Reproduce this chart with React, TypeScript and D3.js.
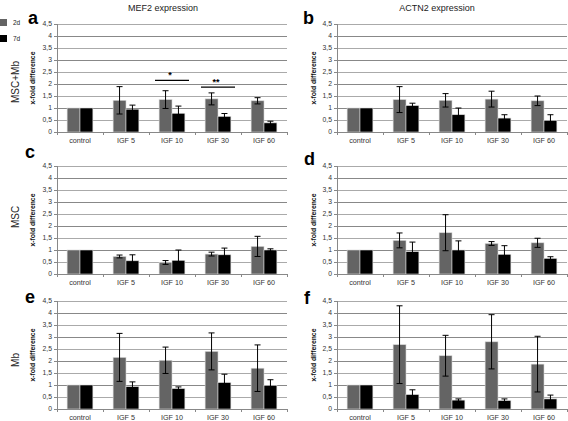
import React from 'react';
import * as d3 from 'd3';

// categories and tick labels shared by all six panels
const categories = ['control', 'IGF 5', 'IGF 10', 'IGF 30', 'IGF 60'];
const yTicks = [0, 0.5, 1, 1.5, 2, 2.5, 3, 3.5, 4, 4.5];
const seriesNames = ['2d', '7d'];
const seriesColors = ['#646464', '#000000'];
const rowLabels = ['MSC+Mb', 'MSC', 'Mb'];
const columnTitles = ['MEF2 expression', 'ACTN2 expression'];
const panelLetters = ['a', 'b', 'c', 'd', 'e', 'f'];

// MEF2, MSC+Mb (a)
const mef2MscMb2d = [1, 1.32, 1.35, 1.38, 1.3];
const mef2MscMb2dErr = [0.01, 0.57, 0.37, 0.25, 0.13];
const mef2MscMb7d = [1, 0.95, 0.78, 0.65, 0.38];
const mef2MscMb7dErr = [0.01, 0.17, 0.3, 0.12, 0.07];
// ACTN2, MSC+Mb (b)
const actn2MscMb2d = [1, 1.35, 1.32, 1.37, 1.3];
const actn2MscMb2dErr = [0.01, 0.54, 0.28, 0.33, 0.2];
const actn2MscMb7d = [1, 1.1, 0.72, 0.58, 0.48];
const actn2MscMb7dErr = [0.01, 0.1, 0.28, 0.14, 0.24];
// MEF2, MSC (c)
const mef2Msc2d = [1, 0.73, 0.48, 0.83, 1.15];
const mef2Msc2dErr = [0.01, 0.06, 0.08, 0.08, 0.42];
const mef2Msc7d = [1, 0.55, 0.57, 0.8, 1.0];
const mef2Msc7dErr = [0.01, 0.25, 0.43, 0.28, 0.05];
// ACTN2, MSC (d)
const actn2Msc2d = [1, 1.4, 1.72, 1.27, 1.3];
const actn2Msc2dErr = [0.01, 0.31, 0.75, 0.08, 0.19];
const actn2Msc7d = [1, 0.93, 1.0, 0.82, 0.65];
const actn2Msc7dErr = [0.01, 0.4, 0.38, 0.36, 0.07];
// MEF2, Mb (e)
const mef2Mb2d = [1, 2.15, 2.03, 2.4, 1.7];
const mef2Mb2dErr = [0.01, 1.0, 0.55, 0.77, 0.97];
const mef2Mb7d = [1, 0.93, 0.85, 1.1, 0.98];
const mef2Mb7dErr = [0.01, 0.2, 0.07, 0.35, 0.24];
// ACTN2, Mb (f)
const actn2Mb2d = [1, 2.68, 2.22, 2.8, 1.87];
const actn2Mb2dErr = [0.01, 1.62, 0.85, 1.13, 1.16];
const actn2Mb7d = [1, 0.6, 0.37, 0.35, 0.42];
const actn2Mb7dErr = [0.01, 0.2, 0.05, 0.07, 0.16];

// significance bars in panel a
const sigCategories = ['IGF 10', 'IGF 30'];
const sigLabels = ['*', '**'];
const sigLevels = [2.15, 1.87];

const panelData = [
  [[mef2MscMb2d, mef2MscMb2dErr], [mef2MscMb7d, mef2MscMb7dErr]],
  [[actn2MscMb2d, actn2MscMb2dErr], [actn2MscMb7d, actn2MscMb7dErr]],
  [[mef2Msc2d, mef2Msc2dErr], [mef2Msc7d, mef2Msc7dErr]],
  [[actn2Msc2d, actn2Msc2dErr], [actn2Msc7d, actn2Msc7dErr]],
  [[mef2Mb2d, mef2Mb2dErr], [mef2Mb7d, mef2Mb7dErr]],
  [[actn2Mb2d, actn2Mb2dErr], [actn2Mb7d, actn2Mb7dErr]],
];

const font = 'Liberation Sans, Arial, Helvetica, sans-serif';
const W = 568;
const H = 421;
const colLeft = [57, 337];
const plotW = 230;
const rowTop = [24, 166, 301];
const plotH = 108;

const fmt = (v: number) => String(v).replace('.', ',');

interface PanelProps {
  index: number;
}

const Panel: React.FC<PanelProps> = ({ index }) => {
  const col = index % 2;
  const row = Math.floor(index / 2);
  const left = colLeft[col];
  const top = rowTop[row];
  const data = panelData[index];

  const x = d3.scaleBand<string>().domain(categories).range([0, plotW]).paddingInner(0.44).paddingOuter(0.22);
  const x1 = d3.scaleBand<string>().domain(seriesNames).range([0, x.bandwidth()]);
  const y = d3.scaleLinear().domain([0, 4.5]).range([plotH, 0]);
  const step = plotW / categories.length;

  return (
    <g transform={`translate(${left},${top})`}>
      {yTicks.slice(1).map(t => (
        <line key={t} x1={0} x2={plotW} y1={Math.round(y(t)) + 0.5} y2={Math.round(y(t)) + 0.5}
          stroke={t % 1 === 0 ? '#888' : '#aaa'} strokeWidth={1} />
      ))}
      {yTicks.map(t => (
        <g key={t}>
          <line x1={-3} x2={0} y1={Math.round(y(t)) + 0.5} y2={Math.round(y(t)) + 0.5} stroke="#888" />
          <text x={-5} y={y(t)} dy="0.35em" textAnchor="end" fontSize={6.8} fill="#333" fontFamily={font}>{fmt(t)}</text>
        </g>
      ))}
      {d3.range(categories.length + 1).map(i => (
        <line key={i} x1={i * step + 0.5} x2={i * step + 0.5} y1={plotH} y2={plotH + 3} stroke="#888" />
      ))}
      {seriesNames.map((s, si) =>
        categories.map((c, ci) => {
          const v = data[si][0][ci];
          const bx = (x(c) || 0) + (x1(s) || 0);
          return (
            <rect key={s + c} x={bx} y={y(v)} width={x1.bandwidth()} height={plotH - y(v)}
              fill={seriesColors[si]} stroke="#d8d8d8" strokeWidth={0.6} />
          );
        })
      )}
      {seriesNames.map((s, si) =>
        categories.map((c, ci) => {
          const v = data[si][0][ci];
          const e = data[si][1][ci];
          const cx = (x(c) || 0) + (x1(s) || 0) + x1.bandwidth() / 2;
          if (e < 0.02) return null;
          return (
            <g key={'e' + s + c} stroke="#000" strokeWidth={1}>
              <line x1={cx} x2={cx} y1={y(v + e)} y2={y(v - e)} />
              <line x1={cx - 3} x2={cx + 3} y1={y(v + e)} y2={y(v + e)} />
              <line x1={cx - 3} x2={cx + 3} y1={y(v - e)} y2={y(v - e)} />
            </g>
          );
        })
      )}
      <line x1={0.5} x2={0.5} y1={0} y2={plotH} stroke="#888" />
      <line x1={0} x2={plotW} y1={plotH + 0.5} y2={plotH + 0.5} stroke="#888" />
      {categories.map(c => (
        <text key={c} x={(x(c) || 0) + x.bandwidth() / 2} y={plotH + 11} textAnchor="middle" fontSize={7.2} fill="#333" fontFamily={font}>{c}</text>
      ))}
      <text transform={`translate(${col === 0 ? -22 : -21},${plotH / 2}) rotate(-90)`} textAnchor="middle" fontSize={6.8} fontWeight="bold" fill="#111" fontFamily={font}>x-fold difference</text>
      {index === 0 && sigCategories.map((c, i) => {
        const cx = (x(c) || 0) + x.bandwidth() / 2;
        return (
          <g key={c}>
            <line x1={cx - 17} x2={cx + 17} y1={y(sigLevels[i])} y2={y(sigLevels[i])} stroke="#000" strokeWidth={1.2} />
            <text x={cx - 2} y={y(sigLevels[i]) - 2} textAnchor="middle" fontSize={9} fontWeight="bold" fontFamily={font}>{sigLabels[i]}</text>
          </g>
        );
      })}
    </g>
  );
};

const letterPos = [[28, 24], [303, 24], [25, 158], [304, 165], [25, 303], [304, 304]];
const rowLabelY = [82, 217, 360];

const App: React.FC = () => {
  return (
    <div style={{ position: 'absolute', left: 0, top: 0 }}>
      <svg width={W} height={H} style={{ display: 'block', background: '#fff' }}>
        {columnTitles.map((t, i) => (
          <text key={t} x={i === 0 ? 163 : 437} y={11} textAnchor="middle" fontSize={9} fill="#222" fontFamily={font}>{t}</text>
        ))}
        {seriesNames.map((s, i) => (
          <g key={s} transform={`translate(0,${19 + i * 16})`}>
            <rect x={0} y={0} width={7} height={7} fill={seriesColors[i]} />
            <text x={13} y={6} fontSize={6.5} fill="#222" fontFamily={font}>{s}</text>
          </g>
        ))}
        {rowLabels.map((r, i) => (
          <text key={r} transform={`translate(19,${rowLabelY[i]}) rotate(-90)`} textAnchor="middle" fontSize={10} fill="#222" fontFamily={font}>{r}</text>
        ))}
        {panelLetters.map((l, i) => (
          <text key={l} x={letterPos[i][0]} y={letterPos[i][1]} fontSize={18} fontWeight="bold" fill="#000" fontFamily={font}>{l}</text>
        ))}
        {panelLetters.map((l, i) => <Panel key={'p' + l} index={i} />)}
      </svg>
    </div>
  );
};

export default App;
